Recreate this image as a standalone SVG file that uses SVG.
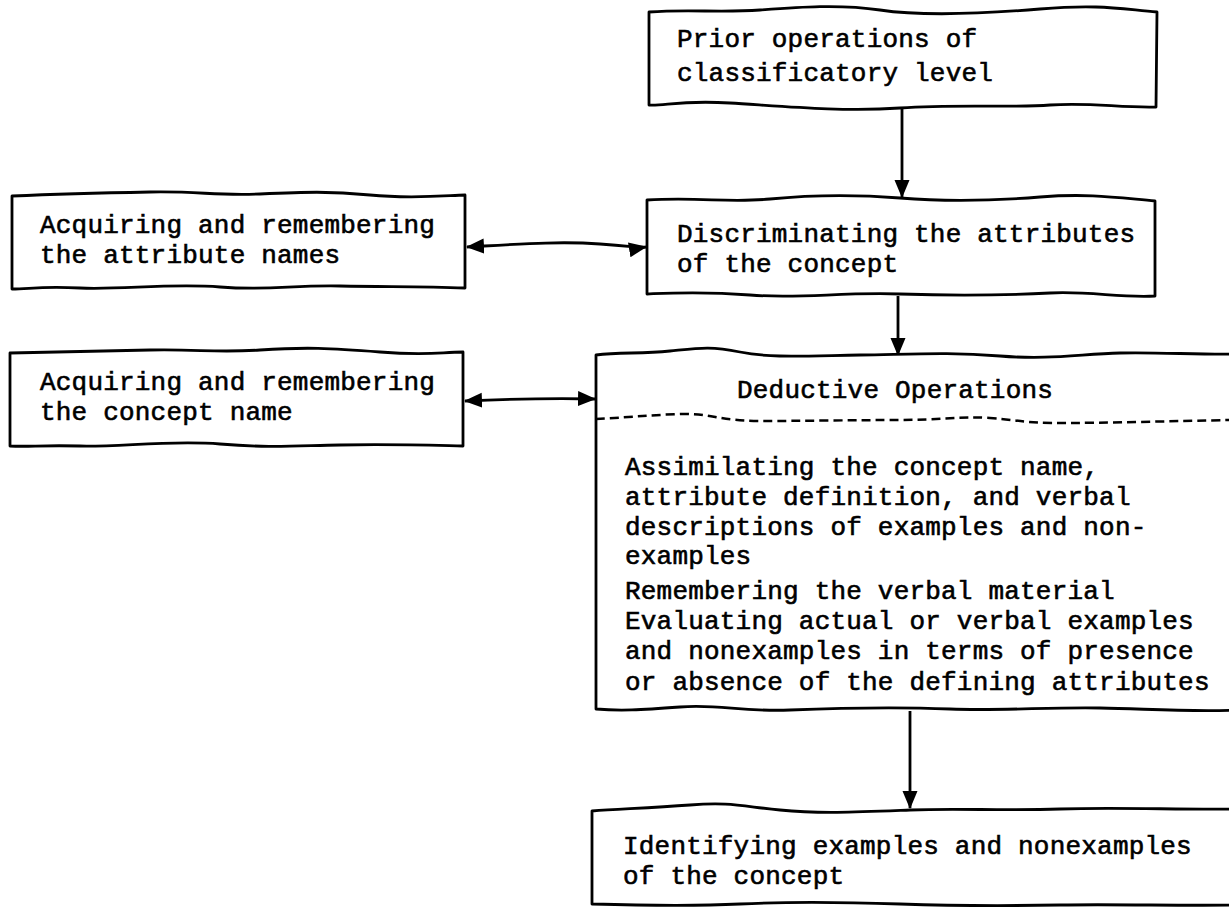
<svg xmlns="http://www.w3.org/2000/svg" width="1229" height="907" viewBox="0 0 1229 907">
<style>
.box{fill:#fff;stroke:#000;stroke-width:2.8;stroke-linejoin:round}
.dash{fill:none;stroke:#000;stroke-width:2.5;stroke-dasharray:9 5}
.t{font-family:"Liberation Mono","Courier New",monospace;font-size:26px;letter-spacing:0.2px;fill:#000;stroke:#000;stroke-width:0.6}
.c{fill:none;stroke:#000;stroke-width:2.8}
</style>
<defs>
<marker id="ah" markerUnits="userSpaceOnUse" markerWidth="20" markerHeight="18" refX="17" refY="9" orient="auto-start-reverse">
<path d="M0,1.5 L18,9 L0,16.5 Z" fill="#000"/>
</marker>
</defs>
<rect width="1229" height="907" fill="#fff"/>
<g id="connectors">
<path class="c" d="M902,107 L902,197" marker-end="url(#ah)"/>
<path class="c" d="M467,247 C520,244 560,241 600,244 S640,248 646,247" marker-start="url(#ah)" marker-end="url(#ah)"/>
<path class="c" d="M898,296 L898,355" marker-end="url(#ah)"/>
<path class="c" d="M465,401 C510,399 550,398 595,399" marker-start="url(#ah)" marker-end="url(#ah)"/>
<path class="c" d="M910,711 L910,808" marker-end="url(#ah)"/>
</g>
<g id="n-prior">
<path class="box" d="M649,12 C690,9 720,13 760,10 S840,4 880,10 S980,14 1040,9 S1120,9 1157,12 L1156,107 C1120,108 1090,102 1050,105 S960,104 900,108 S780,106 730,103 S665,106 649,105 Z"/>
<text class="t" x="677" y="47">Prior operations of</text>
<text class="t" x="677" y="81">classificatory level</text>
</g>
<g id="n-discr">
<path class="box" d="M647,200 C700,197 730,203 770,199 S850,194 900,198 S990,201 1040,197 S1120,198 1155,201 L1155,296 C1120,298 1090,291 1050,293 S960,296 900,294 S800,299 750,295 S670,293 647,294 Z"/>
<text class="t" x="677" y="242">Discriminating the attributes</text>
<text class="t" x="677" y="272">of the concept</text>
</g>
<g id="n-attrnames">
<path class="box" d="M12,196 C60,194 100,193 150,192 S215,196 260,194 S330,191 370,195 S440,196 465,195 L465,288 C420,286 390,287 340,286 S270,291 220,287 S120,290 80,288 S30,289 12,289 Z"/>
<text class="t" x="40" y="233">Acquiring and remembering</text>
<text class="t" x="40" y="263">the attribute names</text>
</g>
<g id="n-conceptname">
<path class="box" d="M10,353 C60,352 100,351 150,350 S215,353 260,350 S330,348 380,352 S440,352 463,352 L463,446 C420,445 390,444 340,445 S270,448 220,444 S120,447 80,446 S30,447 10,446 Z"/>
<text class="t" x="40" y="390">Acquiring and remembering</text>
<text class="t" x="40" y="420">the concept name</text>
</g>
<g id="n-deductive">
<path class="box" d="M596,355 C620,352 640,354 670,351 S710,346 740,352 S800,356 860,355 S950,352 1000,356 S1080,354 1120,353 S1200,355 1240,354 L1240,710 C1190,712 1150,709 1100,708 S1000,711 950,709 S840,708 790,710 S720,704 680,707 S620,711 596,709 Z"/>
<text class="t" x="737" y="398">Deductive Operations</text>
<path class="dash" d="M596,419 C620,418 650,415 680,414 S720,421 760,421 S860,420 900,420 S960,416 990,418 S1020,423 1060,423 S1180,421 1229,420"/>
<text class="t" x="625" y="475">Assimilating the concept name,</text>
<text class="t" x="625" y="505">attribute definition, and verbal</text>
<text class="t" x="625" y="535">descriptions of examples and non-</text>
<text class="t" x="625" y="564">examples</text>
<text class="t" x="625" y="599">Remembering the verbal material</text>
<text class="t" x="625" y="629">Evaluating actual or verbal examples</text>
<text class="t" x="625" y="659">and nonexamples in terms of presence</text>
<text class="t" x="625" y="690">or absence of the defining attributes</text>
</g>
<g id="n-identify">
<path class="box" d="M592,811 C620,809 650,808 690,805 S740,806 780,810 S860,812 910,810 S1000,811 1060,809 S1180,810 1240,809 L1240,905 C1180,906 1120,904 1060,905 S960,906 900,904 S780,902 740,904 S660,906 592,904 Z"/>
<text class="t" x="623" y="854">Identifying examples and nonexamples</text>
<text class="t" x="623" y="884">of the concept</text>
</g>
</svg>
